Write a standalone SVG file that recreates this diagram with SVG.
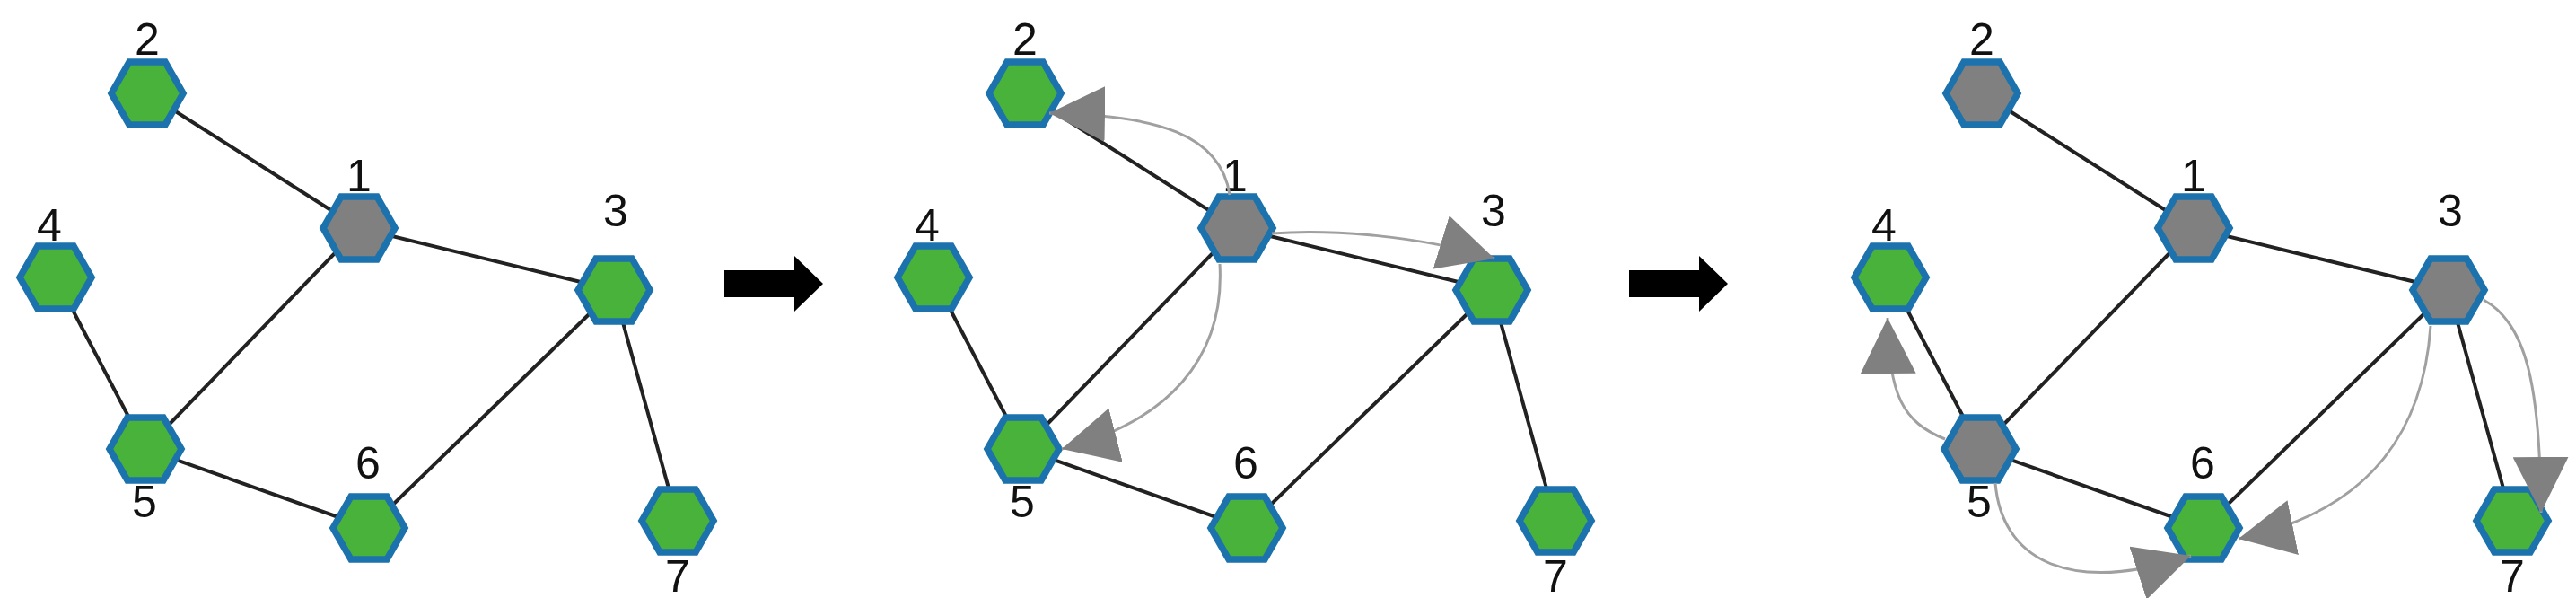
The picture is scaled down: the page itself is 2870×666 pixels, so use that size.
<svg xmlns="http://www.w3.org/2000/svg" xmlns:xlink="http://www.w3.org/1999/xlink" width="2870" height="666" viewBox="0 0 2870 666">
<style>
.e{stroke:#222;stroke-width:4;fill:none}
.h{stroke:#1b72ad;stroke-width:7.5;stroke-linejoin:miter}
.g{fill:#48b23a}.k{fill:#808080}
.t{font-family:"Liberation Sans",Arial,sans-serif;font-size:50px;fill:#111;text-anchor:middle}
.c{stroke:#a0a0a0;stroke-width:3;fill:none;marker-end:url(#ah)}
.big{fill:#000}
</style>
<defs>
<marker id="ah" viewBox="0 0 62 62" refX="62" refY="31" markerWidth="62" markerHeight="62" markerUnits="userSpaceOnUse" orient="auto"><path d="M0,0 L62,31 L0,62 z" fill="#808080"/></marker>
<polygon id="hx" points="-40,0 -20,-35 20,-35 40,0 20,35 -20,35"/>
</defs>
<rect width="2870" height="666" fill="#fff"/>
<g id="connectors">
<g id="edges-p1">
<path class="e" d="M164,104 L400,254 M400,254 L684,323 M400,254 L162,500 M62,309 L162,500 M162,500 L411,588 M411,588 L684,323 M684,323 L755,580"/>
</g>
<g id="edges-p2" transform="translate(978,0)">
<path class="e" d="M164,104 L400,254 M400,254 L684,323 M400,254 L162,500 M62,309 L162,500 M162,500 L411,588 M411,588 L684,323 M684,323 L755,580"/>
</g>
<g id="edges-p3" transform="translate(2044,0)">
<path class="e" d="M164,104 L400,254 M400,254 L684,323 M400,254 L162,500 M62,309 L162,500 M162,500 L411,588 M411,588 L684,323 M684,323 L755,580"/>
</g>
</g>
<g id="panel1">
<g id="p1n1"><use href="#hx" class="h k" x="400" y="254"/><text class="t" x="400" y="213">1</text></g>
<g id="p1n2"><use href="#hx" class="h g" x="164" y="104"/><text class="t" x="164" y="61">2</text></g>
<g id="p1n3"><use href="#hx" class="h g" x="684" y="323"/><text class="t" x="686" y="252">3</text></g>
<g id="p1n4"><use href="#hx" class="h g" x="62" y="309"/><text class="t" x="55" y="268">4</text></g>
<g id="p1n5"><use href="#hx" class="h g" x="162" y="500"/><text class="t" x="161" y="576">5</text></g>
<g id="p1n6"><use href="#hx" class="h g" x="411" y="588"/><text class="t" x="410" y="533">6</text></g>
<g id="p1n7"><use href="#hx" class="h g" x="755" y="580"/><text class="t" x="755" y="659">7</text></g>
</g>
<g id="panel2" transform="translate(978,0)">
<g id="p2n1"><use href="#hx" class="h k" x="400" y="254"/><text class="t" x="398" y="213">1</text></g>
<g id="p2n2"><use href="#hx" class="h g" x="164" y="104"/><text class="t" x="164" y="61">2</text></g>
<g id="p2n3"><use href="#hx" class="h g" x="684" y="323"/><text class="t" x="686" y="252">3</text></g>
<g id="p2n4"><use href="#hx" class="h g" x="62" y="309"/><text class="t" x="55" y="268">4</text></g>
<g id="p2n5"><use href="#hx" class="h g" x="162" y="500"/><text class="t" x="161" y="576">5</text></g>
<g id="p2n6"><use href="#hx" class="h g" x="411" y="588"/><text class="t" x="410" y="533">6</text></g>
<g id="p2n7"><use href="#hx" class="h g" x="755" y="580"/><text class="t" x="755" y="659">7</text></g>
</g>
<g id="panel3" transform="translate(2044,0)">
<g id="p3n1"><use href="#hx" class="h k" x="400" y="254"/><text class="t" x="400" y="213">1</text></g>
<g id="p3n2"><use href="#hx" class="h k" x="164" y="104"/><text class="t" x="164" y="61">2</text></g>
<g id="p3n3"><use href="#hx" class="h k" x="684" y="323"/><text class="t" x="686" y="252">3</text></g>
<g id="p3n4"><use href="#hx" class="h g" x="62" y="309"/><text class="t" x="55" y="268">4</text></g>
<g id="p3n5"><use href="#hx" class="h k" x="162" y="500"/><text class="t" x="161" y="576">5</text></g>
<g id="p3n6"><use href="#hx" class="h g" x="411" y="588"/><text class="t" x="410" y="533">6</text></g>
<g id="p3n7"><use href="#hx" class="h g" x="755" y="580"/><text class="t" x="755" y="659">7</text></g>
</g>
<g id="flows">
<path class="c" d="M1370,217 C1360,150 1290,128 1169,126"/>
<path class="c" d="M1417,260 C1480,255 1580,262 1665,288"/>
<path class="c" d="M1359,294 C1365,400 1300,470 1183,500"/>
<path class="c" d="M2167,489 C2120,470 2104,440 2103,354"/>
<path class="c" d="M2223,538 C2230,620 2300,665 2441,619"/>
<path class="c" d="M2708,363 C2700,480 2640,570 2494,600"/>
<path class="c" d="M2767,334 C2815,360 2830,430 2831,571"/>
</g>
<g id="step-arrows">
<polygon class="big" points="807,301 885,301 885,285 917,316 885,347 885,331 807,331"/>
<polygon class="big" points="1815,301 1893,301 1893,285 1925,316 1893,347 1893,331 1815,331"/>
</g>
</svg>
